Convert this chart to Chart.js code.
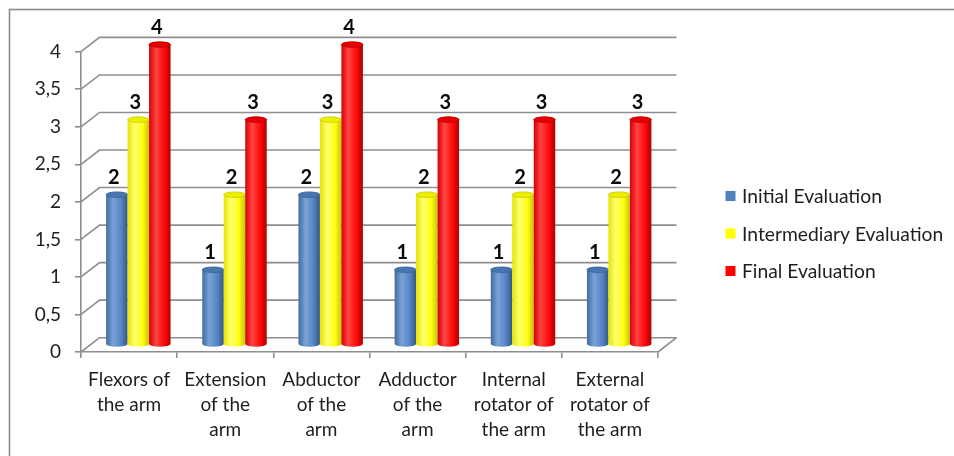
<!DOCTYPE html>
<html>
<head>
<meta charset="utf-8">
<script src="https://cdn.jsdelivr.net/npm/chart.js@4/dist/chart.umd.min.js"></script>
<style>
  html, body { margin: 0; padding: 0; background: #ffffff; }
  canvas { display: block; }
</style>
</head>
<body>
<canvas id="chart" width="954" height="456"></canvas>
<script>
// Muscle groups evaluated
const categories = [
  ['Flexors of', 'the arm'],
  ['Extension', 'of the', 'arm'],
  ['Abductor', 'of the', 'arm'],
  ['Adductor', 'of the', 'arm'],
  ['Internal', 'rotator of', 'the arm'],
  ['External', 'rotator of', 'the arm']
];
const seriesNames = ['Initial Evaluation', 'Intermediary Evaluation', 'Final Evaluation'];
const initialScores = [2, 1, 2, 1, 1, 1];
const intermediaryScores = [3, 2, 3, 2, 2, 2];
const finalScores = [4, 3, 4, 3, 3, 3];
const yTicks = [0, 0.5, 1, 1.5, 2, 2.5, 3, 3.5, 4];

// Cylinder shading per series
const palettes = [
  { legend: '#4f81bd', edge: '#3f6ca3', light: '#7aa2d6', base: '#5585c2', dark: '#33578a', cap: '#4876b0', line: '#3a6296' },
  { legend: '#ffff00', edge: '#e4e400', light: '#ffff70', base: '#ffff14', dark: '#c6c600', cap: '#eeee00', line: '#caca00' },
  { legend: '#ff0000', edge: '#d60000', light: '#ff4444', base: '#ff0a0a', dark: '#b00000', cap: '#e60000', line: '#b80000' }
];

// 3D depth of the plot box (back wall offset from the front axes)
const DEPTH_X = 18.5;
const DEPTH_Y = -14.3;
const GRID_COLOR = '#8e8e8e';
const TEXT_COLOR = '#1e1e1e';
const FONT = 'Lato, "Open Sans", sans-serif';

function drawCylinder(ctx, cx, top, bottom, w, pal) {
  const rx = w / 2, ry = 2.8, l = cx - rx;
  const g = ctx.createLinearGradient(l, 0, l + w, 0);
  g.addColorStop(0, pal.edge);
  g.addColorStop(0.33, pal.light);
  g.addColorStop(0.7, pal.base);
  g.addColorStop(1, pal.dark);
  ctx.fillStyle = g;
  ctx.beginPath();
  ctx.moveTo(l, top);
  ctx.lineTo(l, bottom);
  ctx.ellipse(cx, bottom, rx, ry, 0, Math.PI, 0, true);
  ctx.lineTo(l + w, top);
  ctx.ellipse(cx, top, rx, ry, 0, 0, Math.PI, true);
  ctx.closePath();
  ctx.fill();
  // top cap
  ctx.beginPath();
  ctx.ellipse(cx, top, rx, ry, 0, 0, Math.PI * 2);
  ctx.fillStyle = pal.cap;
  ctx.fill();
  ctx.lineWidth = 0.8;
  ctx.strokeStyle = pal.line;
  ctx.stroke();
}

const box3d = {
  id: 'box3d',
  beforeDraw(chart) {
    const ctx = chart.ctx;
    ctx.save();
    ctx.fillStyle = '#ffffff';
    ctx.fillRect(0, 0, chart.width, chart.height);
    ctx.strokeStyle = '#8a8a8a';
    ctx.lineWidth = 1.6;
    ctx.strokeRect(9.5, 9.5, chart.width + 20, chart.height + 20);
    ctx.restore();
  },
  beforeDatasetsDraw(chart) {
    const ctx = chart.ctx;
    const { left, right, bottom } = chart.chartArea;
    const ys = chart.scales.y;
    ctx.save();
    ctx.strokeStyle = GRID_COLOR;
    ctx.lineWidth = 1.6;
    // back wall gridlines with their side-wall diagonals
    yTicks.forEach(v => {
      const y = ys.getPixelForValue(v);
      ctx.beginPath();
      ctx.moveTo(left, y);
      ctx.lineTo(left + DEPTH_X, y + DEPTH_Y);
      ctx.lineTo(right + DEPTH_X, y + DEPTH_Y);
      ctx.stroke();
    });
    // floor right edge
    ctx.beginPath();
    ctx.moveTo(right, bottom);
    ctx.lineTo(right + DEPTH_X, bottom + DEPTH_Y);
    ctx.stroke();

    // cylinders sit half way into the depth
    ctx.translate(DEPTH_X / 2, DEPTH_Y / 2);
    const n = chart.data.labels.length;
    for (let i = 0; i < n; i++) {
      chart.data.datasets.forEach((ds, d) => {
        const el = chart.getDatasetMeta(d).data[i];
        drawCylinder(ctx, el.x, el.y, el.base, el.width, palettes[d]);
      });
    }
    ctx.restore();
    return false;
  },
  afterDraw(chart) {
    const ctx = chart.ctx;
    ctx.save();
    // value labels
    ctx.font = 'bold 20px ' + FONT;
    ctx.fillStyle = '#0a0a0a';
    ctx.textAlign = 'center';
    ctx.textBaseline = 'middle';
    chart.data.datasets.forEach((ds, d) => {
      chart.getDatasetMeta(d).data.forEach((el, i) => {
        ctx.fillText(String(ds.data[i]), el.x + DEPTH_X / 2 - 3, el.y + DEPTH_Y / 2 - 17.5);
      });
    });
    // legend
    ctx.font = '19.3px ' + FONT;
    ctx.textAlign = 'left';
    const legendY = [196, 233.5, 271];
    chart.data.datasets.forEach((ds, d) => {
      ctx.fillStyle = palettes[d].legend;
      ctx.fillRect(725.5, legendY[d] - 5, 10, 10);
      ctx.fillStyle = TEXT_COLOR;
      ctx.fillText(ds.label, 742, legendY[d] + 1);
    });
    ctx.restore();
  }
};

new Chart(document.getElementById('chart'), {
  type: 'bar',
  data: {
    labels: categories,
    datasets: [
      { label: seriesNames[0], data: initialScores, backgroundColor: palettes[0].legend },
      { label: seriesNames[1], data: intermediaryScores, backgroundColor: palettes[1].legend },
      { label: seriesNames[2], data: finalScores, backgroundColor: palettes[2].legend }
    ]
  },
  options: {
    responsive: false,
    animation: false,
    events: [],
    categoryPercentage: 0.67,
    barPercentage: 1,
    layout: { padding: { left: 0, right: 296, top: 51.7, bottom: 0 } },
    plugins: { legend: { display: false }, tooltip: { enabled: false } },
    scales: {
      x: {
        grid: { offset: true, drawOnChartArea: false, drawTicks: true, tickLength: 6, color: GRID_COLOR, lineWidth: 1.6 },
        border: { color: GRID_COLOR, width: 1.6 },
        ticks: { color: TEXT_COLOR, padding: 9, maxRotation: 0, autoSkip: false,
                 font: { family: FONT, size: 19, lineHeight: 25 / 19 } },
        afterFit(scale) { scale.height = 104; }
      },
      y: {
        min: 0,
        max: 4,
        afterBuildTicks(scale) { scale.ticks = yTicks.map(v => ({ value: v })); },
        grid: { drawOnChartArea: false, drawTicks: true, tickLength: 6, color: GRID_COLOR, lineWidth: 1.6 },
        border: { color: GRID_COLOR, width: 1.6 },
        ticks: { color: TEXT_COLOR, padding: 14,
                 font: { family: FONT, size: 19 },
                 callback: v => String(v).replace('.', ',') },
        afterFit(scale) { scale.width = 81; }
      }
    }
  },
  plugins: [box3d]
});
</script>
</body>
</html>
